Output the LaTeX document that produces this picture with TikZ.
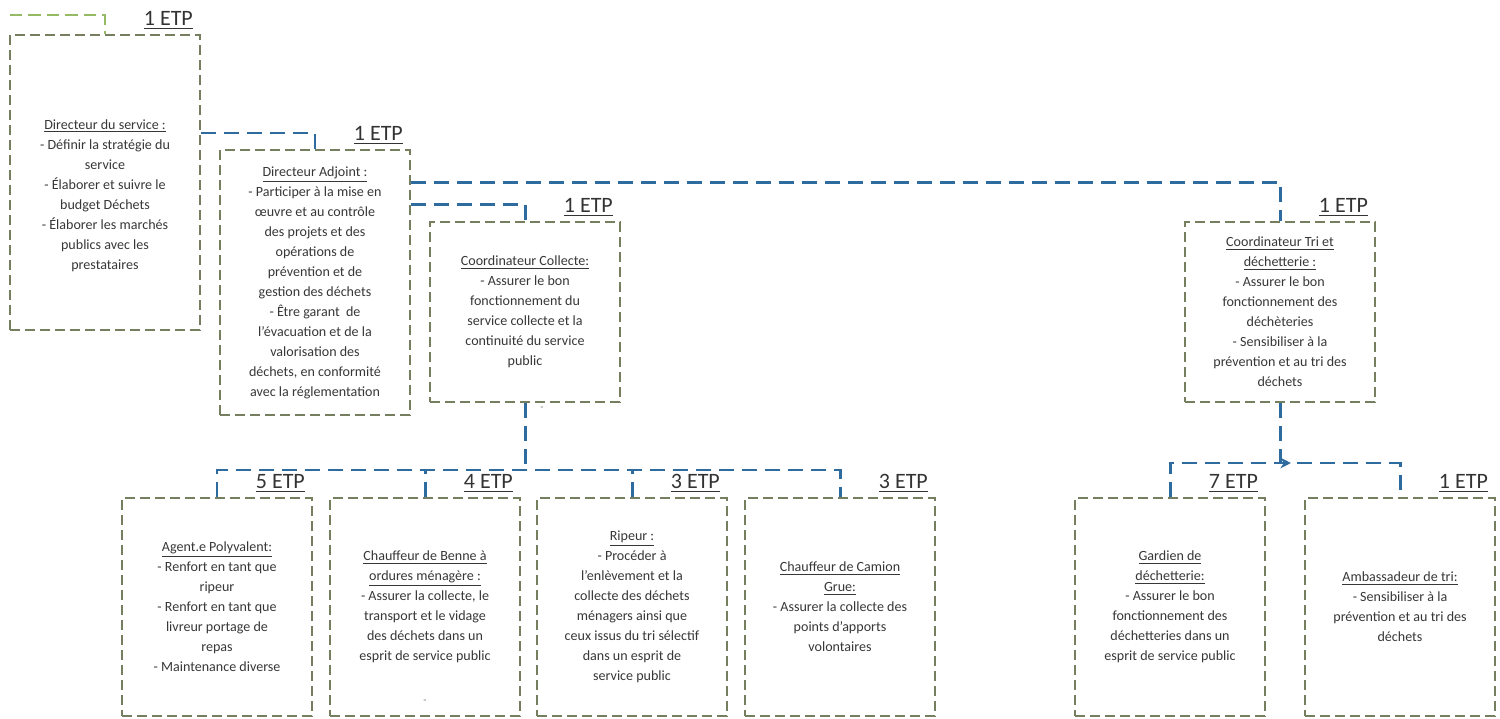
\documentclass[tikz,border=0pt]{standalone}
\usepackage{fontspec}
\setmainfont{Carlito}
\usetikzlibrary{arrows.meta,decorations.markings}
\definecolor{boxc}{RGB}{118,126,96}
\definecolor{conc}{RGB}{46,108,160}
\definecolor{grn}{RGB}{150,185,100}
\definecolor{txt}{RGB}{55,55,55}
\tikzset{
  x=0.02cm, y=-0.02cm,
  post/.style={draw=boxc, line width=1.1pt, dash pattern=on 0.2cm off 0.1cm,
    align=center, font=\fontsize{8}{11.4}\selectfont, text=txt, inner sep=2pt,
    minimum width=3.8cm},
  posttext/.style={align=center, font=\fontsize{8}{11.4}\selectfont, text=txt, inner sep=2pt},
  etp/.style={font=\fontsize{12.5}{14}\selectfont, text=black!80, inner sep=1pt, anchor=south east},
  conn/.style={draw=conc, line width=1.7pt, dash pattern=on 0.3cm off 0.16cm},
  gconn/.style={draw=grn, line width=1.5pt, dash pattern=on 0.25cm off 0.12cm},
  stray/.style={font=\fontsize{6}{7}\selectfont, text=txt!70, inner sep=0pt},
}
\begin{document}
\begin{tikzpicture}
\useasboundingbox (0,0) rectangle (1500,719);

% ---- top level ----
\node[post, minimum height=5.9cm] (dir) at (105,182.5) {};
\node[posttext] (dirtxt) at ([yshift=-0.26cm]dir.center) {%
\underline{Directeur du service :}\\
- Définir la stratégie du\\ service\\
- Élaborer et suivre le\\ budget Déchets\\
- Élaborer les marchés\\ publics avec les\\ prestataires};

\node[post, minimum height=5.3cm] (adj) at (315,282.5) {%
\underline{Directeur Adjoint :}\\
- Participer à la mise en\\ œuvre et au contrôle\\ des projets et des\\
opérations de\\ prévention et de\\ gestion des déchets\\
- Être garant\ \ de\\ l'évacuation et de la\\ valorisation des\\
déchets, en conformité\\ avec la réglementation};

\node[post, minimum height=3.6cm] (coll) at (525,312) {%
\underline{Coordinateur Collecte:}\\
- Assurer le bon\\ fonctionnement du\\ service collecte et la\\
continuité du service\\ public};

\node[post, minimum height=3.6cm] (tri) at (1280,312) {%
\underline{Coordinateur Tri et}\\ \underline{déchetterie :}\\
- Assurer le bon\\ fonctionnement des\\ déchèteries\\
- Sensibiliser à la\\ prévention et au tri des\\ déchets};

% ---- bottom row ----
\node[post, minimum height=4.36cm] (agent) at (217,607) {%
\underline{Agent.e Polyvalent:}\\
- Renfort en tant que\\ ripeur\\
- Renfort en tant que\\ livreur portage de\\ repas\\
- Maintenance diverse};

\node[post, minimum height=4.36cm] (benne) at (425,607) {%
\underline{Chauffeur de Benne à}\\ \underline{ordures ménagère :}\\
- Assurer la collecte, le\\ transport et le vidage\\
des déchets dans un\\ esprit de service public};

\node[post, minimum height=4.36cm] (ripeur) at (632,607) {%
\underline{Ripeur :}\\
- Procéder à\\ l'enlèvement et la\\ collecte des déchets\\
ménagers ainsi que\\ ceux issus du tri sélectif\\ dans un esprit de\\ service public};

\node[post, minimum height=4.36cm] (camion) at (840,607) {%
\underline{Chauffeur de Camion}\\ \underline{Grue:}\\
- Assurer la collecte des\\ points d'apports\\ volontaires};

\node[post, minimum height=4.36cm] (gardien) at (1170,607) {%
\underline{Gardien de}\\ \underline{déchetterie:}\\
- Assurer le bon\\ fonctionnement des\\ déchetteries dans un\\ esprit de service public};

\node[post, minimum height=4.36cm] (amb) at (1400,607) {%
\underline{Ambassadeur de tri:}\\
- Sensibiliser à la\\ prévention et au tri des\\ déchets};

% ---- ETP labels ----
\foreach \b/\t in {dir/1, adj/1, coll/1, tri/1, agent/5, benne/4, ripeur/3, camion/3, gardien/7, amb/1}
  \node[etp] (etp-\b) at ([xshift=-0.12cm,yshift=0.06cm]\b.north east) {\underline{\t\ ETP}};

% stray marks
\node[stray] (s1) at (542,409) {-};
\node[stray] (s2) at (425,702) {-};

% ---- connectors ----
\coordinate (gstart) at (10,15);
\coordinate (jc) at (525,470);
\coordinate (jt) at (1280,463);

\draw[gconn] (gstart) -| (dir.north);
\draw[conn] ([yshift=0.99cm]dir.east) -| (adj.north);
\draw[conn] ([yshift=1.57cm]adj.east) -| (coll.north);
\draw[conn] ([yshift=2.01cm]adj.east) -| (tri.north);

\draw[conn] (coll.south) -- (jc);
\draw[conn] (agent.north) |- (jc) -| (camion.north);
\draw[conn] (benne.north) -- (benne.north |- jc);
\draw[conn] (ripeur.north) -- (ripeur.north |- jc);

\draw[conn] (tri.south) -- (jt);
\draw[conn, postaction={decorate}, decoration={markings,
   mark=at position 0.52 with {\arrow[conc]{Stealth[length=6pt,width=6pt]}}}]
  (gardien.north) |- (jt) -| (amb.north);
\end{tikzpicture}
\end{document}
